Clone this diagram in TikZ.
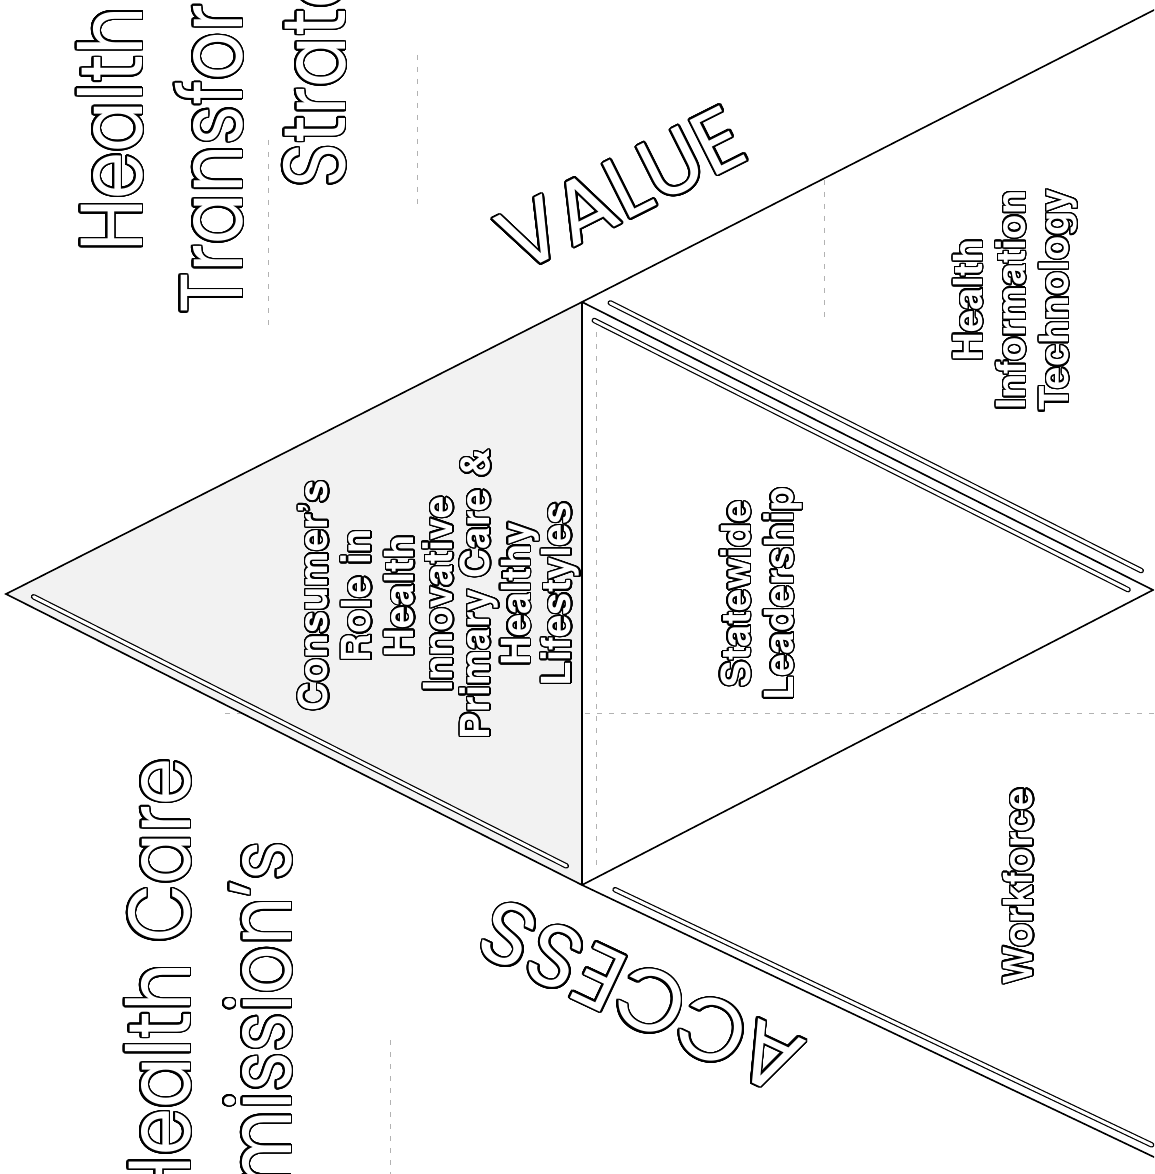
\documentclass[tikz,border=0pt]{standalone}
\usepackage{fontspec}
\newfontfamily\lblfont{TeX Gyre Heros}
\newfontfamily\ttlfont{Poppins}
\usepackage{contour}
\contournumber{32}
\usetikzlibrary{calc}
\newcommand{\titlefont}{\ttlfont\fontsize{88}{100}\selectfont}
\newcommand{\ttl}[1]{{\contourlength{1.8pt}\textcolor{white}{\contour{black}{#1}}}}
\newcommand{\ttlc}[1]{\scalebox{0.86}[1]{\ttl{#1}}}
\newcommand{\lbl}[1]{{\contourlength{1.4pt}\textcolor{white}{\contour{black}{#1}}}}
\tikzset{
  edge/.style={line width=1.6pt, line join=miter},
  sliver/.style={double=white, double distance=3pt, line width=1.2pt, line cap=round},
  titletext/.style={inner sep=0pt, font=\titlefont},
  lbl/.style={inner sep=0pt, rotate=90, align=center, font={\lblfont\bfseries\fontsize{40}{43}\selectfont}},
  lbltight/.style={lbl, font={\lblfont\bfseries\fontsize{40}{37}\selectfont}},
  scan/.style={black!30, line width=0.7pt, dash pattern=on 5pt off 7pt}
}
\begin{document}
\begin{tikzpicture}[x=1pt,y=-1pt]
\useasboundingbox (0,0) rectangle (1154,1174);
\clip (0,0) rectangle (1154,1174);
\fill[white] (0,0) rectangle (1154,1174);
% vertices
\coordinate (A) at (6,594);
\coordinate (B) at (582,302);
\coordinate (C) at (582,885);
\coordinate (D) at (1153,590);
\coordinate (E1) at (1156,9);
\coordinate (E2) at (1156,1158);
% faint scan lines
\draw[scan] (225,713) -- (1154,713);
\draw[scan] (596,320) -- (596,870);
\draw[scan] (417,55) -- (417,205);
\draw[scan] (268,140) -- (268,330);
\draw[scan] (390,1040) -- (390,1174);
\draw[scan] (824,180) -- (824,320);
% left triangle
\fill[black!5] (A) -- (B) -- (C) -- cycle;
% main chevron
\draw[edge] (E1) -- (B) -- (A) -- (C) -- (E2);
\draw[edge] (B) -- (C);
\draw[edge] (B) -- (D) -- (C);
% bevel slivers
\draw[sliver] ($(A)!0.04!(C)+(4.5,-8.9)$) -- ($(A)!0.965!(C)+(4.5,-8.9)$);
\draw[sliver] ($(C)!0.05!(E2)+(4.3,-9)$) -- ($(C)!0.985!(E2)+(4.3,-9)$);
\draw[sliver] ($(B)!0.04!(D)+(5.4,-10.7)$) -- ($(B)!0.97!(D)+(5.4,-10.7)$);
\draw[sliver] ($(B)!0.03!(D)+(-4.9,9.8)$) -- ($(B)!0.965!(D)+(-4.9,9.8)$);
% titles
\node[titletext, rotate=90, anchor=base west] (t1) at (142,252) {\ttlc{Health}};
\node[titletext, rotate=90, anchor=base west] (t2) at (242,314) {\ttlc{Transformation}};
\node[titletext, rotate=90, anchor=base west] (t3) at (345,188) {\ttlc{Strategy}};
\node[titletext, rotate=90, anchor=base east] (t4) at (190,758) {\ttlc{Health Care}};
\node[titletext, rotate=90, anchor=base east] (t5) at (291,841) {\ttlc{Commission’s}};
\node[titletext, rotate=26.6] (value) at (622,190) {\ttl{VALUE}};
\node[titletext, rotate=154.8] (access) at (641,996) {\ttl{ACCESS}};
% labels
\node[lbl] (consumer) at (357,596) {\lbl{Consumer’s}\\\lbl{Role in}\\\lbl{Health}};
\node[lbltight] (primary) at (502,594) {\lbl{Innovative}\\\lbl{Primary Care \&}\\\lbl{Healthy}\\\lbl{Lifestyles}};
\node[lbl] (statewide) at (762,594) {\lbl{Statewide}\\\lbl{Leadership}};
\node[lbl] (hit) at (1016,300) {\lbl{Health}\\\lbl{Information}\\\lbl{Technology}};
\node[lbl] (workforce) at (1019,886) {\lbl{Workforce}};
\end{tikzpicture}
\end{document}
